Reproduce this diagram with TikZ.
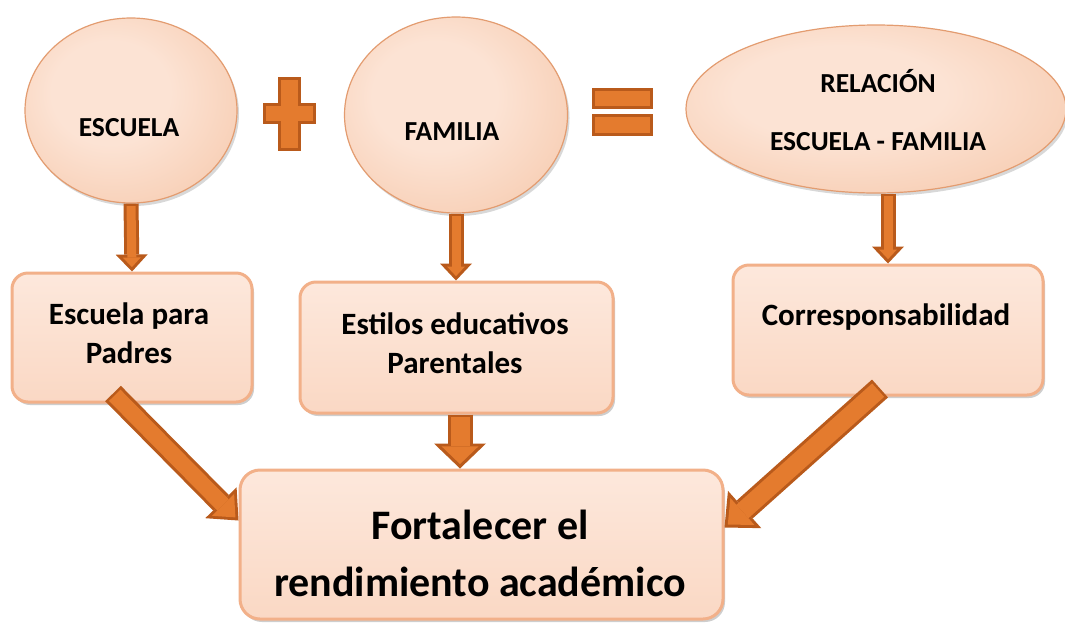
\documentclass[tikz,border=0pt]{standalone}
\usepackage{fontspec}
\setmainfont{Carlito}
\usetikzlibrary{shapes.geometric,arrows.meta,shadows,calc}
\definecolor{arrdark}{HTML}{B95A1B}
\definecolor{arrfill}{HTML}{E47B2E}
\definecolor{pcA}{HTML}{FCE3D4}
\definecolor{pcB}{HTML}{F2B690}
\definecolor{rim}{HTML}{E39C70}
\definecolor{boxtop}{HTML}{FDE8DC}
\definecolor{boxbot}{HTML}{FAD8C4}
\definecolor{boxrim}{HTML}{F2B089}
\pgfdeclareradialshading{peach}{\pgfpoint{-6bp}{6bp}}{color(0bp)=(pcA); color(14bp)=(pcA); color(40bp)=(pcB!65!pcA); color(50bp)=(pcB); color(70bp)=(pcB)}
\tikzset{
  blob/.style={ellipse, draw=rim, line width=1.2pt, shade, shading=peach, inner sep=0pt,
    drop shadow={shadow xshift=2pt, shadow yshift=-3pt, opacity=.25, fill=black!60}},
  blobtext/.style={font=\fontsize{27.5}{58}\selectfont\bfseries, align=center, text=black},
  boxnode/.style={rectangle, rounded corners=16pt, draw=boxrim, line width=3pt,
    top color=boxtop, bottom color=boxbot, inner sep=0pt,
    drop shadow={shadow xshift=2pt, shadow yshift=-3pt, opacity=.35, fill=black!55}},
  boxtext/.style={font=\fontsize{31}{39}\selectfont\bfseries, align=center, text=black},
  bigtext/.style={font=\fontsize{42}{57}\selectfont\bfseries, align=center, text=black},
  aout/.style n args={3}{draw=arrdark, line width=#1, -{Triangle[width=#2,length=#3,line width=0pt]}},
  ain/.style n args={3}{draw=arrfill, line width=#1, -{Triangle[width=#2,length=#3,line width=0pt]}, shorten >=4.4pt, shorten <=2.5pt},
  symb/.style={fill=arrfill, draw=arrdark, line width=3pt, line join=miter}
}
\begin{document}
\begin{tikzpicture}[x=1pt,y=-1pt]
\useasboundingbox (0,0) rectangle (1065,622);
\fill[white] (0,0) rectangle (1065,622);

% top shapes
\node[blob, minimum width=212pt, minimum height=185pt] (esc) at (131,110.5) {};
\node[blobtext] (esct) at (129,128) {ESCUELA};
\node[blob, minimum width=223pt, minimum height=196pt] (fam) at (456,115) {};
\node[blobtext] (famt) at (452,132) {FAMILIA};
\node[blob, minimum width=380pt, minimum height=168pt] (rel) at (876,109) {};
\node[blobtext] (relt) at (878,110) {RELACIÓN\\ESCUELA - FAMILIA};

% plus and equals
\filldraw[symb] (279.5,78.5) -- (299,78.5) -- (299,104.5) -- (314.5,104.5) -- (314.5,122.5)
  -- (299,122.5) -- (299,149.5) -- (279.5,149.5) -- (279.5,122.5) -- (264.5,122.5)
  -- (264.5,104.5) -- (279.5,104.5) -- cycle;
\filldraw[symb] (593.5,89.5) rectangle (651.5,107.5);
\filldraw[symb] (593.5,115.5) rectangle (651.5,134.5);

% boxes
\node[boxnode, minimum width=240pt, minimum height=129pt] (box1) at (132,337.5) {};
\node[boxtext] (t1) at (129,333) {Escuela para\\Padres};
\node[boxnode, minimum width=313pt, minimum height=131pt] (box2) at (456.5,347.5) {};
\node[boxtext] (t2) at (455,343) {Estilos educativos\\Parentales};
\node[boxnode, minimum width=310pt, minimum height=130pt] (box3) at (888,330) {};
\node[boxtext] (t3) at (886,317) {Corresponsabilidad};
\node[boxnode, rounded corners=20pt, minimum width=483pt, minimum height=149pt] (bot) at (481.5,544.5) {};
\node[bigtext] (t4) at (480,553) {Fortalecer el\\rendimiento académico};

% arrows
\draw[aout={15pt}{32pt}{17pt}] (esc.south) -- (box1.north);
\draw[ain={9pt}{18pt}{9.6pt}] (esc.south) -- (box1.north);
\draw[aout={15pt}{32pt}{17pt}] (fam.south) -- (fam.south |- box2.north);
\draw[ain={9pt}{18pt}{9.6pt}] (fam.south) -- (fam.south |- box2.north);
\draw[aout={15pt}{32pt}{17pt}] (box3.north |- rel.south) -- (box3.north);
\draw[ain={9pt}{18pt}{9.6pt}] (box3.north |- rel.south) -- (box3.north);
\draw[aout={25pt}{52pt}{25pt}] ($(box2.south)+(3.5,0)$) -- ($(box2.south |- bot.north)+(3.5,0)$);
\draw[ain={19pt}{37pt}{17.8pt}] ($(box2.south)+(3.5,0)$) -- ($(box2.south |- bot.north)+(3.5,0)$);
\draw[aout={22pt}{44pt}{25pt}] ($(box1.south)+(-19,-10)$) -- ($(bot.west)+(0,-24)$);
\draw[ain={16pt}{31pt}{17.5pt}] ($(box1.south)+(-19,-10)$) -- ($(bot.west)+(0,-24)$);
\draw[aout={24pt}{50pt}{27pt}] ($(box3.south)+(-8,-8)$) -- ($(bot.east)+(0,-17)$);
\draw[ain={18pt}{36pt}{19.6pt}] ($(box3.south)+(-8,-8)$) -- ($(bot.east)+(0,-17)$);
\end{tikzpicture}
\end{document}
